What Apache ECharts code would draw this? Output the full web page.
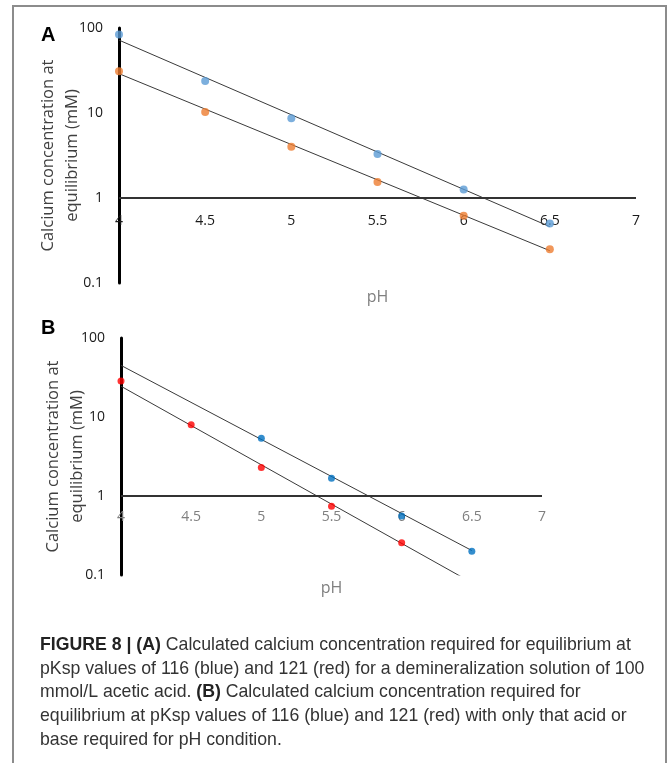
<!DOCTYPE html>
<html>
<head>
<meta charset="utf-8">
<script src="https://cdn.jsdelivr.net/npm/echarts@6/dist/echarts.min.js"></script>
<style>html,body{margin:0;padding:0;background:#fff}#c{width:669px;height:763px}</style>
</head>
<body>
<div id="c"></div>
<script>
// ---- data ----
const xTicks = [4, 4.5, 5, 5.5, 6, 6.5, 7];
const phA = [4, 4.5, 5, 5.5, 6, 6.5];
const blueA = [84, 23.8, 8.7, 3.3, 1.26, 0.50];
const orangeA = [31, 10.3, 4.0, 1.54, 0.62, 0.25];
const trendX = [4, 6.5];
const trendBlueA = [72, 0.46];
const trendOrangeA = [29, 0.24];

const phBBlue = [5, 5.5, 6, 6.5];
const blueB = [5.4, 1.68, 0.56, 0.20];
const phBRed = [4, 4.5, 5, 5.5, 6];
const redB = [28.5, 8.0, 2.3, 0.74, 0.256];
const trendBlueB = [45, 0.204];
const trendRedB = [24.5, 0.08];
const refValue = 1;

const yTitle = 'Calcium concentration at\nequilibrium (mM)';
const captionLines = [
  '{b|FIGURE 8 | (A)} Calculated calcium concentration required for equilibrium at',
  'pKsp values of 116 (blue) and 121 (red) for a demineralization solution of 100',
  'mmol/L acetic acid. {b|(B)} Calculated calcium concentration required for',
  'equilibrium at pKsp values of 116 (blue) and 121 (red) with only that acid or',
  'base required for pH condition.'
];

const FONT = "'Open Sans', 'DejaVu Sans', sans-serif";
const CAPFONT = "'Liberation Sans', Arial, sans-serif";

function pairs(xs, ys) { return xs.map((x, i) => [x, ys[i]]); }

function xAxisCfg(idx, margin, color, nameGap) {
  return {
    gridIndex: idx, type: 'value', min: xTicks[0], max: xTicks[xTicks.length - 1], interval: 0.5,
    axisLine: { show: false }, axisTick: { show: false }, splitLine: { show: false },
    axisLabel: { margin: margin, color: color, fontSize: 14, fontFamily: FONT },
    name: 'pH', nameLocation: 'middle', nameGap: nameGap, nameMoveOverlap: false,
    nameTextStyle: { color: '#808080', fontSize: 16, fontFamily: FONT }
  };
}
function yAxisCfg(idx, nameGap) {
  return {
    gridIndex: idx, type: 'log', logBase: 10, min: 0.1, max: 100,
    axisLine: { show: true, lineStyle: { color: '#000', width: 3 } },
    axisTick: { show: false }, splitLine: { show: false },
    axisLabel: { margin: 16, color: '#1a1a1a', fontSize: 14, fontFamily: FONT,
      formatter: v => String(+v.toPrecision(3)) },
    name: yTitle, nameLocation: 'middle', nameRotate: 90, nameGap: nameGap, nameMoveOverlap: false,
    nameTextStyle: { color: '#404040', fontSize: 16.5, lineHeight: 24, fontFamily: FONT }
  };
}
function trend(idx, ys) {
  return { type: 'line', xAxisIndex: idx, yAxisIndex: idx, data: pairs(trendX, ys),
    showSymbol: false, symbol: 'none', clip: true, silent: true,
    lineStyle: { color: '#3a3a3a', width: 1 }, z: 2 };
}
function pts(idx, xs, ys, color, size) {
  return { type: 'scatter', xAxisIndex: idx, yAxisIndex: idx, data: pairs(xs, ys),
    symbolSize: size, itemStyle: { color: color }, z: 3 };
}
function refLine(idx) {
  return { type: 'line', xAxisIndex: idx, yAxisIndex: idx, data: [],
    markLine: { silent: true, symbol: 'none', label: { show: false },
      lineStyle: { color: '#333', width: 2, type: 'solid' },
      data: [[{ coord: [xTicks[0], refValue] }, { coord: [xTicks[xTicks.length - 1], refValue] }]] } };
}

const chart = echarts.init(document.getElementById('c'), null, { renderer: 'canvas' });
const graphics = [
  { type: 'rect', shape: { x: 13, y: 6, width: 653, height: 800 },
    style: { fill: 'none', stroke: '#8c8c8c', lineWidth: 2 }, silent: true },
  { type: 'text', left: 41, top: 25, style: { text: 'A', fontSize: 20, fontWeight: 'bold', fill: '#000', fontFamily: "'Liberation Sans', sans-serif" } },
  { type: 'text', left: 41, top: 318, style: { text: 'B', fontSize: 20, fontWeight: 'bold', fill: '#000', fontFamily: "'Liberation Sans', sans-serif" } }
];
captionLines.forEach((t, i) => {
  graphics.push({ type: 'text', x: 40, y: 645 + i * 23.8,
    style: { text: t, fontSize: 17.7, fontFamily: CAPFONT, fill: '#333', verticalAlign: 'middle', align: 'left',
      rich: { b: { fontWeight: 'bold', fontSize: 17.7, fontFamily: CAPFONT, fill: '#222' } } } });
});

chart.setOption({
  animation: false,
  backgroundColor: '#fff',
  grid: [
    { left: 119, right: 33, top: 28, bottom: 480 },
    { left: 121, right: 127, top: 338, bottom: 188 }
  ],
  xAxis: [xAxisCfg(0, -69, '#1a1a1a', 6), xAxisCfg(1, -65, '#7f7f7f', 5)],
  yAxis: [yAxisCfg(0, 35), yAxisCfg(1, 32)],
  series: [
    refLine(0),
    trend(0, trendBlueA), trend(0, trendOrangeA),
    pts(0, phA, blueA, '#5B9BD5', 8), pts(0, phA, orangeA, '#ED7D31', 8),
    refLine(1),
    trend(1, trendBlueB), trend(1, trendRedB),
    pts(1, phBBlue, blueB, '#0070C0', 7), pts(1, phBRed, redB, '#FF0000', 7)
  ],
  graphic: graphics
});
</script>
</body>
</html>
